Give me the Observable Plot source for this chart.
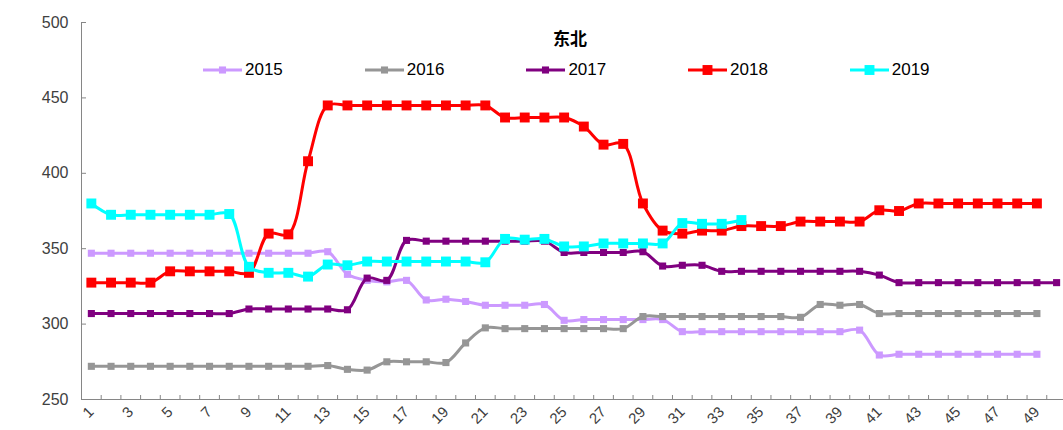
<!DOCTYPE html>
<html>
<head>
<meta charset="utf-8">
<script src="https://cdn.jsdelivr.net/npm/d3@7"></script>
<script src="https://cdn.jsdelivr.net/npm/@observablehq/plot@0.6"></script>
<style>
  body { margin: 0; background: #fff; font-family: "Liberation Sans", Arial, sans-serif; }
  #wrap { position: relative; width: 1063px; height: 430px; }
  #title { position: absolute; left: 0; width: 1140px; top: 27px; text-align: center; font-weight: bold; font-size: 17px; color: #000; font-family: "Noto Sans CJK SC", sans-serif; line-height: 22px; }
  #legend { position: absolute; left: 203px; top: 59px; display: flex; }
  .item { width: 161.7px; display: flex; align-items: center; height: 22px; }
  .item span { font-size: 17px; color: #000; margin-left: 3px; }
</style>
</head>
<body>
<div id="wrap">
  <div id="chart"></div>
  <div id="title"></div>
  <div id="legend"></div>
</div>
<script>
const title = "东北";
const weeks = [1,2,3,4,5,6,7,8,9,10,11,12,13,14,15,16,17,18,19,20,21,22,23,24,25,26,27,28,29,30,31,32,33,34,35,36,37,38,39,40,41,42,43,44,45,46,47,48,49,50];
const xTickLabels = [1,3,5,7,9,11,13,15,17,19,21,23,25,27,29,31,33,35,37,39,41,43,45,47,49];
const yTicks = [250,300,350,400,450,500];
const seriesNames = ["2015","2016","2017","2018","2019"];
const seriesColors = ["#CC99FF","#969696","#800080","#FF0000","#00FFFF"];

const s2015 = [347,347,347,347,347,347,347,347,347,347,347,347,348,333,329,328,329,316,316.5,315,
  312.5,312.5,312.5,313,302.5,303,303,303,303,303,295,295,295,295,295,295,295,295,295,296,
  279.5,280,280,280,280,280,280,280,280];
const s2016 = [272,272,272,272,272,272,272,272,272,272,272,272,272.5,270,269.5,275,275,275,274.5,287.5,
  297.5,297,297,297,297,297,297,297,305,305,305,305,305,305,305,305,304.5,313,312.5,313,
  307,307,307,307,307,307,307,307,307];
const s2017 = [307,307,307,307,307,307,307,307,310,310,310,310,310,309.5,330.5,329,355.5,355,355,355,
  355,355,355,355,347.5,347.5,347.5,347.5,348,338.5,339,339,335,335,335,335,335,335,335,335,
  332.5,327.5,327.5,327.5,327.5,327.5,327.5,327.5,327.5,327.5];
const s2018 = [327.5,327.5,327.5,327.5,335,335,335,335,334,360,359.5,408,445,445,445,445,445,445,445,445,
  445,437,437,437,437,431,419,419.5,380,362,360,362,362,365,365,365,368,368,368,368,
  375.5,375,380,380,380,380,380,380,380];
const s2019 = [380,372.5,372.5,372.5,372.5,372.5,372.5,373,338,334,334,331.5,339.5,339,341.5,341.5,341.5,341.5,341.5,341.5,
  341,356.5,356,356.5,351.5,351.5,353.5,353.5,353.5,353.5,367,366.5,366.5,369];

const allSeries = [s2015, s2016, s2017, s2018, s2019];
const markerR = [4, 4, 4, 5.6, 5.6];
const rows = [];
allSeries.forEach((vals, i) => vals.forEach((v, j) => rows.push({series: seriesNames[i], week: weeks[j], value: v})));

const marks = [
  Plot.ruleX([0.5], {stroke: "#868686", strokeWidth: 1}),
  Plot.ruleY([250], {stroke: "#868686", strokeWidth: 1}),
  Plot.axisY({ticks: yTicks, tickSize: 0, tickPadding: 13, fontSize: 16, fill: "#404040", label: null}),
  Plot.axisY({ticks: yTicks, tickSize: -5, tickFormat: () => "", stroke: "#868686", label: null}),
  Plot.axisX({ticks: xTickLabels, tickSize: 0, tickPadding: 10, tickRotate: -45, fontSize: 15, fill: "#404040", label: null}),
  Plot.axisX({ticks: weeks.map(w => w + 0.5), tickSize: -4, tickFormat: () => "", stroke: "#868686", label: null})
];
seriesNames.forEach((name, i) => {
  const d = rows.filter(r => r.series === name);
  marks.push(Plot.line(d, {x: "week", y: "value", stroke: seriesColors[i], strokeWidth: 3, curve: "catmull-rom"}));
  marks.push(Plot.dot(d, {x: "week", y: "value", symbol: "square", r: markerR[i], fill: seriesColors[i], stroke: "none"}));
});

const chart = Plot.plot({
  width: 1063,
  height: 430,
  marginLeft: 81,
  marginRight: 0,
  marginTop: 22,
  marginBottom: 31,
  style: {fontFamily: "'Liberation Sans', Arial, sans-serif", background: "#fff"},
  x: {type: "linear", domain: [0.5, 50.35], axis: null, label: null},
  y: {domain: [250, 500], axis: null, label: null},
  marks
});
document.getElementById("chart").appendChild(chart);
document.getElementById("title").textContent = title;

const legend = document.getElementById("legend");
seriesNames.forEach((name, i) => {
  const item = document.createElement("div");
  item.className = "item";
  const s = markerR[i] * 1.77;
  item.innerHTML = `<svg width="39" height="22"><line x1="0" x2="39" y1="11" y2="11" stroke="${seriesColors[i]}" stroke-width="3"/><rect x="${19.5 - s/2}" y="${11 - s/2}" width="${s}" height="${s}" fill="${seriesColors[i]}"/></svg><span>${name}</span>`;
  legend.appendChild(item);
});
</script>
</body>
</html>
